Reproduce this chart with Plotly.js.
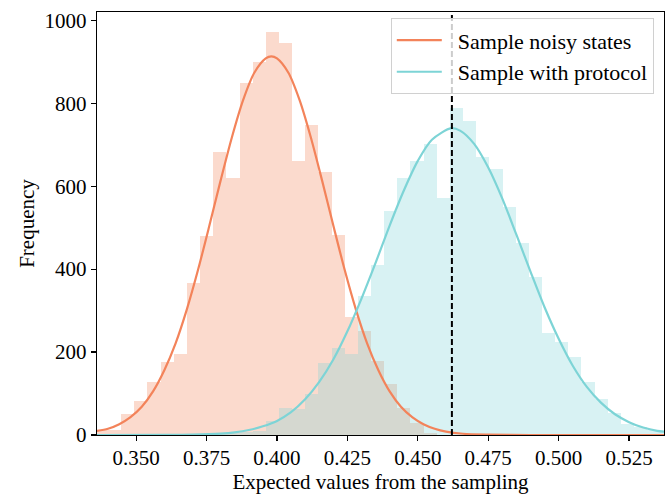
<!DOCTYPE html>
<html>
<head>
<meta charset="utf-8">
<script src="https://cdn.plot.ly/plotly-3.0.1.min.js"></script>
<style>html,body{margin:0;padding:0;background:#fff;}#chart{width:672px;height:494px;}</style>
</head>
<body>
<div id="chart"></div>
<script>
// Histogram bins (shared by both samples)
const binStart = 0.335332;   // left edge of the first bin
const binWidth = 0.004669;
const noisyCounts = [11,12,50,82,128,176,195,366,481,682,619,848,900,971,946,661,747,634,483,285,251,178,122,64,28,4,1,0,0,0,0,0,0,0,0,0,0,0,0,0,0,0,0,0];
const protocolCounts = [0,0,0,0,0,0,0,0,1,2,5,8,10,34,64,63,99,173,211,196,334,410,540,619,660,702,572,788,756,671,641,549,464,382,247,225,187,129,88,54,26,20,12,8];

// Fitted curves
const noisyCurveX = [0.336,0.340,0.344,0.348,0.352,0.356,0.360,0.364,0.368,0.372,0.376,0.380,0.384,0.388,0.392,0.396,0.398,0.400,0.404,0.408,0.412,0.416,0.420,0.424,0.428,0.432,0.436,0.440,0.444,0.448,0.452,0.456,0.460,0.466,0.475,0.490,0.510,0.5375];
const noisyCurveY = [10,15,26,43,68,105,156,221,303,399,505,614,718,808,874,908,913,908,874,808,718,614,505,399,303,221,156,105,68,43,26,15,8,3,1,0,0,0];
const protocolCurveX = [0.336,0.360,0.370,0.380,0.385,0.390,0.395,0.400,0.405,0.410,0.415,0.420,0.425,0.430,0.435,0.440,0.445,0.450,0.455,0.4619,0.465,0.470,0.475,0.480,0.485,0.490,0.495,0.500,0.505,0.510,0.515,0.520,0.525,0.530,0.535,0.5375];
const protocolCurveY = [0,0.2,1,3.5,6.5,12,21,34,55,86,128,182,250,329,415,505,589,661,712,740,734,702,645,570,483,394,308,232,167,116,78,50,31,18,10,8];

const meanLine = 0.4621;
const xTicks = [0.350,0.375,0.400,0.425,0.450,0.475,0.500,0.525];
const yTicks = [0,200,400,600,800,1000];
const seriesNames = ['Sample noisy states','Sample with protocol'];

const orange = '#F3835A';
const cyan = '#7DD4D6';
const centers = noisyCounts.map((_, i) => binStart + (i + 0.5) * binWidth);

const FONT = '"Liberation Serif", "Times New Roman", serif';
const FS = 21;

const traces = [
  {type:'bar', x: centers, y: noisyCounts, width: binWidth, marker:{color:'rgba(243,131,90,0.3)', line:{width:0}}, showlegend:false, hoverinfo:'skip'},
  {type:'bar', x: centers, y: protocolCounts, width: binWidth, marker:{color:'rgba(125,212,214,0.3)', line:{width:0}}, showlegend:false, hoverinfo:'skip'},
  {type:'scatter', mode:'lines', x: noisyCurveX, y: noisyCurveY, line:{color:orange, width:2.2, shape:'spline', smoothing:0.8}, name:'\u2002' + seriesNames[0]},
  {type:'scatter', mode:'lines', x: protocolCurveX, y: protocolCurveY, line:{color:cyan, width:2.2, shape:'spline', smoothing:0.8}, name:'\u2002' + seriesNames[1]}
];

const layout = {
  width: 672, height: 494,
  margin: {l:97, r:8, t:12, b:59},
  paper_bgcolor:'#fff', plot_bgcolor:'#fff',
  barmode:'overlay', bargap:0,
  font:{family:FONT, size:FS, color:'#000'},
  xaxis:{
    range:[0.3361,0.5374], tickvals:xTicks, ticktext:xTicks.map(v=>v.toFixed(3)),
    showgrid:false, zeroline:false, showline:true, mirror:true, linecolor:'#000', linewidth:1.3,
    ticks:'outside', ticklen:5, tickwidth:1.2, tickcolor:'#000', ticklabelstandoff:-2,
    tickfont:{family:FONT, size:FS, color:'#000'},
    title:{text:'Expected values from the sampling', font:{family:FONT, size:FS, color:'#000'}, standoff:6}
  },
  yaxis:{
    range:[0,1020], tickvals:yTicks,
    showgrid:false, zeroline:false, showline:true, mirror:true, linecolor:'#000', linewidth:1.3,
    ticks:'outside', ticklen:5, tickwidth:1.2, tickcolor:'#000',
    tickfont:{family:FONT, size:FS, color:'#000'},
    title:{text:'Frequency', font:{family:FONT, size:FS, color:'#000'}, standoff:4}
  },
  shapes:[{type:'line', xref:'x', yref:'paper', x0:meanLine, x1:meanLine, y0:0, y1:1, line:{color:'#000', width:2, dash:'6px,3px'}, layer:'above'}],
  legend:{
    x:0.982, y:0.985, xanchor:'right', yanchor:'top',
    bgcolor:'rgba(255,255,255,0.8)', bordercolor:'#d0d0d0', borderwidth:1,
    font:{family:FONT, size:22, color:'#000'}, itemwidth:45, tracegroupgap:0
  }
};

Plotly.newPlot('chart', traces, layout, {staticPlot:true, displayModeBar:false});
</script>
</body>
</html>
